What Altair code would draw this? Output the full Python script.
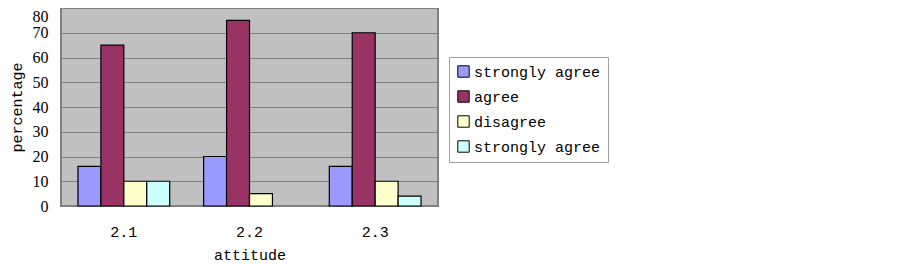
import altair as alt
import pandas as pd

categories = ["2.1", "2.2", "2.3"]
series_keys = ["s1", "s2", "s3", "s4"]
series_labels = ["strongly agree", "agree", "disagree", "strongly agree"]
series_colors = ["#9999FF", "#993366", "#FFFFCC", "#CCFFFF"]
values = {
    "s1": [16, 20, 16],
    "s2": [65, 75, 70],
    "s3": [10, 5, 10],
    "s4": [10, 0, 4],
}

rows = []
for k in series_keys:
    for c, v in zip(categories, values[k]):
        rows.append({"attitude": c, "series": k, "percentage": v})
df = pd.DataFrame(rows)

label_expr = " : ".join(
    f"datum.value == '{k}' ? '{l}'" for k, l in zip(series_keys, series_labels)
) + " : ''"

serif = "Liberation Serif"
mono = "Liberation Mono"

chart = alt.Chart(df).mark_bar(stroke="black", strokeWidth=1.2).encode(
    x=alt.X(
        "attitude:N",
        sort=categories,
        scale=alt.Scale(paddingInner=0.27, paddingOuter=0.135),
        axis=alt.Axis(
            title="attitude",
            labelAngle=0,
            labelFont=mono,
            labelFontSize=15,
            labelColor="black",
            labelPadding=18,
            titleFont=mono,
            titleFontSize=15,
            titleFontWeight="normal",
            titleColor="black",
            titlePadding=8,
            domainColor="#808080",
            ticks=False,
        ),
    ),
    xOffset=alt.XOffset("series:N", sort=series_keys, scale=alt.Scale(domain=series_keys, paddingInner=0, paddingOuter=0)),
    y=alt.Y(
        "percentage:Q",
        scale=alt.Scale(domain=[0, 80], nice=False),
        axis=alt.Axis(
            title="percentage",
            values=list(range(0, 81, 10)),
            labelOverlap=False,
            labelFont=serif,
            labelFontSize=16,
            labelColor="black",
            labelPadding=13,
            labelBaseline={"condition": {"test": "datum.value == 80", "value": "top"}, "value": "middle"},
            ticks=False,
            domain=False,
            gridColor="#808080",
            gridWidth=1,
            titleFont=mono,
            titleFontSize=15,
            titleFontWeight="normal",
            titleColor="black",
            titlePadding=8,
        ),
    ),
    color=alt.Color(
        "series:N",
        sort=series_keys,
        scale=alt.Scale(domain=series_keys, range=series_colors),
        legend=alt.Legend(
            title=None,
            orient="none",
            legendX=388,
            legendY=49,
            labelExpr=label_expr,
            labelFont=mono,
            labelFontSize=15,
            labelColor="black",
            symbolType="square",
            symbolSize=130,
            symbolStrokeColor="black",
            symbolStrokeWidth=1,
            rowPadding=8,
            strokeColor="#A0A0A0",
            fillColor="white",
            padding=7,
            labelOffset=3,
        ),
    ),
).transform_filter(
    "datum.percentage > 0"
).properties(
    width=377,
    height=198,
    autosize=alt.AutoSizeParams(type="none"),
    padding={"left": 53, "top": 0, "right": 450, "bottom": 60},
).configure_view(
    fill="#C0C0C0",
    stroke="#808080",
    strokeWidth=2,
)

chart.save("out.html", embed_options={"renderer": "svg", "actions": False})
